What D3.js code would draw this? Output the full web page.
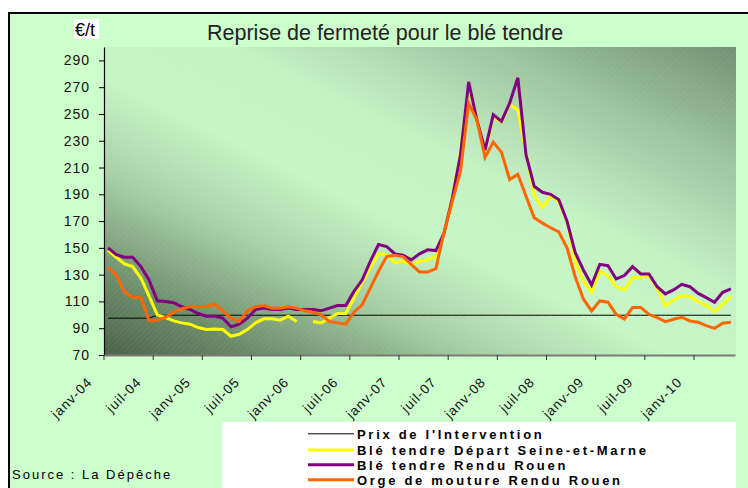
<!DOCTYPE html>
<html><head><meta charset="utf-8">
<script src="https://cdn.jsdelivr.net/npm/d3@7"></script>
<style>
body{margin:0;background:#fff}
svg{display:block}
text{font-family:"Liberation Sans",Arial,sans-serif}
</style>
</head><body>
<svg id="c" width="748" height="488"></svg>
<script>
// ---- data ----
const monthNames = ["janv","févr","mars","avr","mai","juin","juil","août","sept","oct","nov","déc"];
const years = ["04","05","06","07","08","09","10"];
const categories = [];
years.forEach(y => monthNames.forEach(m => categories.push(m + "-" + y)));
categories.length = 77; // janv-04 .. mai-10

const tickLabels = ["janv-04","juil-04","janv-05","juil-05","janv-06","juil-06","janv-07","juil-07","janv-08","juil-08","janv-09","juil-09","janv-10"];
const yTicks = [70,90,110,130,150,170,190,210,230,250,270,290];

const prixIntervention = [97.5,97.5,97.5,97.5,97.5,97.5,99.7,99.7,99.7,99.7,99.7,99.7,
  99.7,99.7,99.7,99.7,99.7,99.7,99.7,99.7,99.7,99.7,99.7,99.7,
  99.7,99.7,99.7,99.7,99.7,99.7,99.7,99.7,99.7,99.7,99.7,99.7,
  99.7,99.7,99.7,99.7,99.7,99.7,99.7,99.7,99.7,99.7,99.7,99.7,
  99.7,99.7,99.7,99.7,99.7,99.7,99.7,99.7,99.7,99.7,99.7,99.7,
  99.7,99.7,99.7,99.7,99.7,99.7,99.7,99.7,99.7,99.7,99.7,99.7,
  99.7,99.7,99.7,99.7,99.7];

const bleSeineEtMarne = [148,143,138,136,127.5,114,100,98,95.5,94,93,90.5,
  89,89.5,89,84,85.5,89,94,97,97,96,99,95,
  null,95,94,97.5,101,101,112.5,124,135,145.5,145,139,
  140,137.5,140,141,143.5,161,188,221,272,245,222,248,
  244,257,253,221,189,180,189,184.5,170,140,125.3,116.8,
  132.8,129,121,118.6,127.8,127.8,129.3,119.8,106.9,111.1,114.3,113.6,
  109.9,106.9,102.4,107.9,113.6];

const bleRouen = [150,145,143,143,136,126,110.5,110,109,106,104,101,
  99,99,97.5,91,93,97.5,104,105,104,104,105,104,
  104,104,103,105,107,107,117.5,126,140,152.5,151,145.5,
  144.5,141,145.5,148.5,148,161,187,219.5,274,245.5,223,249.5,
  244.5,258,277,219.5,196,191.5,190,186,170,146.5,133.5,122.3,
  137.7,136.7,126.8,129.3,136,130.5,130.5,121,115.6,118.6,122.8,121,
  116,112.8,109.4,116.8,119.3];

const orgeRouen = [135.5,129.5,117,113,113,95.5,96,98,102,104.5,106,106,
  106,108,103,97.5,95,103,106,107,105,105,106,105,
  103,102,100,95,94,93,102,107.5,120,132.5,143.5,144.5,
  143.5,137.5,132,132,134.5,162,184.5,207,258,245.5,217.5,229,
  221.5,201,205,188.5,172.5,168.5,165,162,150,128.5,111.8,102.9,
  110.4,109.4,100.4,96.9,105.4,105.4,100.4,97.9,94.9,96.7,98.2,95.4,
  94.4,91.9,89.9,93.7,94.4];

const seriesNames = ["Prix de l'Intervention","Blé tendre Départ Seine-et-Marne","Blé tendre Rendu Rouen","Orge de mouture Rendu Rouen"];
const seriesColors = ["#000000","#ffff00","#800080","#ff6600"];
const seriesWidths = [1,3,3,3];
const seriesData = [prixIntervention, bleSeineEtMarne, bleRouen, orgeRouen];

// ---- layout ----
const svg = d3.select("#c");
const L = 104, R = 735, T = 47, B = 355;

const x = d3.scaleBand().domain(categories).range([L, R]).padding(0);
const y = d3.scaleLinear().domain([70, 300]).range([B, T]);
const cx = c => x(c) + x.bandwidth() / 2;

// frame
svg.append("rect").attr("x", 9).attr("y", 13).attr("width", 760).attr("height", 490)
  .attr("fill", "#ccffcc").attr("stroke", "#000").attr("stroke-width", 2);

const defs = svg.append("defs");
const grad = defs.append("linearGradient").attr("id", "bg")
  .attr("x1", 0).attr("y1", 1).attr("x2", 1).attr("y2", 0);
[[0,"#4a6248"],[0.12,"#6a8a67"],[0.3,"#a8d0a6"],[0.45,"#c6f5c6"],[0.6,"#c4f2c4"],[0.8,"#a0c5a0"],[1,"#6f916f"]]
  .forEach(s => grad.append("stop").attr("offset", s[0]).attr("stop-color", s[1]));
const pat = defs.append("pattern").attr("id", "hatch").attr("width", 4).attr("height", 4)
  .attr("patternUnits", "userSpaceOnUse").attr("patternTransform", "rotate(45)");
pat.append("line").attr("x1", 0).attr("y1", 0).attr("x2", 0).attr("y2", 4)
  .attr("stroke", "#ffffff").attr("stroke-opacity", 0.07).attr("stroke-width", 1.5);

svg.append("rect").attr("x", L).attr("y", T).attr("width", R - L + 1).attr("height", B - T)
  .attr("fill", "url(#bg)");
svg.append("rect").attr("x", L).attr("y", T).attr("width", R - L + 1).attr("height", B - T)
  .attr("fill", "url(#hatch)");

// title
svg.append("text").attr("x", 207).attr("y", 40).attr("font-size", 21.5).attr("fill", "#222")
  .text("Reprise de fermeté pour le blé tendre");

// unit label
svg.append("rect").attr("x", 74).attr("y", 19).attr("width", 25).attr("height", 20).attr("fill", "#fff");
svg.append("text").attr("x", 75).attr("y", 36).attr("font-size", 18).attr("fill", "#000").text("€/t");

// y axis
const yAxis = d3.axisLeft(y).tickValues(yTicks).tickSize(5).tickSizeOuter(0).tickPadding(9);
const gy = svg.append("g").attr("transform", `translate(${L},0)`).call(yAxis);
gy.select(".domain").attr("stroke", "#000").attr("stroke-width", 1.2);
gy.selectAll(".tick line").attr("stroke", "#000");
gy.selectAll(".tick text").attr("font-size", 14).attr("letter-spacing", "1px")
  .attr("fill", "#111").attr("font-family", "Liberation Sans, Arial, sans-serif");

// x axis
const xAxis = d3.axisBottom(x).tickValues(tickLabels).tickSize(5).tickSizeOuter(0).tickFormat(d => d);
const gx = svg.append("g").attr("transform", `translate(0,${B})`).call(xAxis);
gx.select(".domain").attr("stroke", "#7a7a7a").attr("stroke-width", 2);
gx.selectAll(".tick").attr("transform", d => `translate(${x(d)},0)`);
gx.selectAll(".tick line").attr("stroke", "#333");
gx.selectAll(".tick text")
  .attr("font-size", 13.5).attr("letter-spacing", "1px").attr("fill", "#111")
  .attr("font-family", "Liberation Sans, Arial, sans-serif")
  .attr("text-anchor", "end").attr("dy", null).attr("y", null)
  .attr("transform", d => `translate(${x.bandwidth() / 2 - 15},28) rotate(-45)`);

// series
const line = d3.line().defined(d => d.v != null).x(d => cx(d.c)).y(d => y(d.v));
seriesData.forEach((arr, k) => {
  const pts = arr.map((v, i) => ({ c: categories[i], v }));
  svg.append("path").datum(pts).attr("d", line).attr("fill", "none")
    .attr("stroke", seriesColors[k]).attr("stroke-width", seriesWidths[k])
    .attr("stroke-linejoin", "miter");
});

// legend
svg.append("rect").attr("x", 222).attr("y", 422).attr("width", 514).attr("height", 70).attr("fill", "#fff");
const rowY = [433.8, 450, 464.8, 479.8];
seriesNames.forEach((n, k) => {
  svg.append("line").attr("x1", 308).attr("x2", 354).attr("y1", rowY[k]).attr("y2", rowY[k])
    .attr("stroke", seriesColors[k]).attr("stroke-width", k === 0 ? 1 : 3);
  svg.append("text").attr("x", 357).attr("y", rowY[k] + 4.7).attr("font-size", 13)
    .attr("font-weight", "bold").attr("letter-spacing", "2.7px").attr("fill", "#000").text(n);
});

// source
svg.append("text").attr("x", 12).attr("y", 479).attr("font-size", 13).attr("letter-spacing", "2px")
  .attr("fill", "#000").text("Source : La Dépêche");
</script>
</body></html>
